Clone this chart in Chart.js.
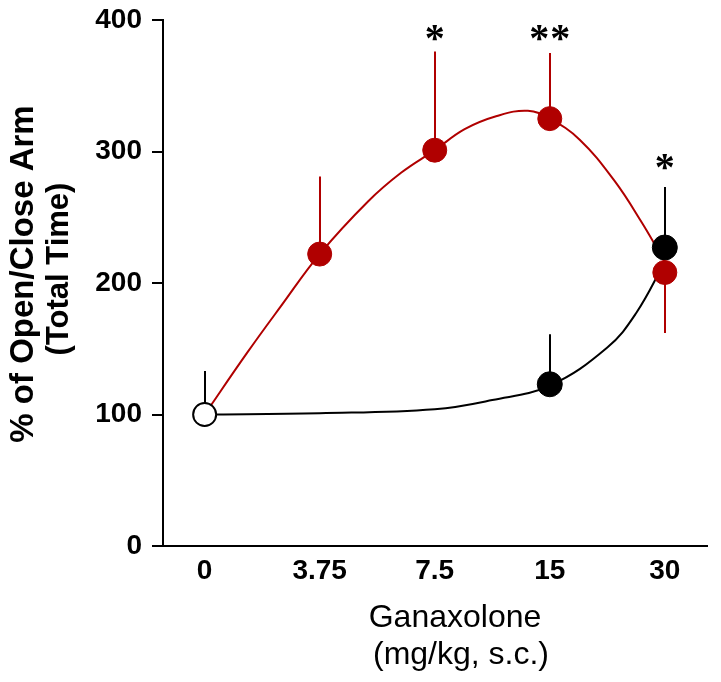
<!DOCTYPE html>
<html>
<head>
<meta charset="utf-8">
<script src="https://cdn.jsdelivr.net/npm/chart.js@4"></script>
<style>
html,body{margin:0;padding:0;background:#fff;}
#wrap{width:721px;height:682px;position:relative;}
</style>
</head>
<body>
<div id="wrap"><canvas id="c" width="721" height="682"></canvas></div>
<script>
// ---- data ----
const doseLabels = ['0', '3.75', '7.5', '15', '30'];
const yTicks = [0, 100, 200, 300, 400];

// control (vehicle) point, shared by both series
const controlX = [0];
const controlMean = [100];
const controlErrEnd = [133];

// red series
const redX = [1, 2, 3, 4];
const redMean = [222, 301, 325, 208];
const redErrEnd = [281, 376, 375, 162];

// black series
const blackX = [3, 4];
const blackMean = [123, 227];
const blackErrEnd = [161, 273];

// fitted curves
const redCurveX = [0, 0.37, 0.66, 1, 1.42, 1.71, 2, 2.26, 2.54, 2.81, 3, 3.26, 3.56, 3.8, 4];
const redCurveY = [100, 147, 182, 222, 262, 284, 301, 317, 327, 331, 325, 309, 278, 246, 216];
const blackCurveX = [0, 1, 2, 2.5, 3, 3.5, 3.75, 4];
const blackCurveY = [100, 101, 104, 111, 122, 151, 177, 216];

// significance marks
const sigText = ['*', '**', '*'];
const sigX = [2, 3, 4];
const sigY = [390, 390, 292];

// ---- styling ----
const RED = '#b00000';
const SANS = '"Liberation Sans", Arial, sans-serif';
const SERIF = '"Liberation Serif", "Times New Roman", serif';

const pts = (xs, ys) => xs.map((x, i) => ({x: x, y: ys[i]}));

const errGroups = [
  {x: controlX, mean: controlMean, end: controlErrEnd, color: '#000'},
  {x: redX, mean: redMean, end: redErrEnd, color: RED},
  {x: blackX, mean: blackMean, end: blackErrEnd, color: '#000'}
];

const errorBarPlugin = {
  id: 'errorBars',
  beforeDatasetsDraw(chart) {
    const ctx = chart.ctx, xs = chart.scales.x, ys = chart.scales.y;
    ctx.save();
    ctx.lineWidth = 2;
    errGroups.forEach(g => {
      ctx.strokeStyle = g.color;
      g.x.forEach((xv, i) => {
        const px = Math.round(xs.getPixelForValue(xv));
        ctx.beginPath();
        ctx.moveTo(px, ys.getPixelForValue(g.mean[i]));
        ctx.lineTo(px, ys.getPixelForValue(g.end[i]));
        ctx.stroke();
      });
    });
    ctx.restore();
  }
};

const annotPlugin = {
  id: 'annot',
  afterDraw(chart) {
    const ctx = chart.ctx, xs = chart.scales.x, ys = chart.scales.y;
    const a = chart.chartArea;
    ctx.save();
    ctx.fillStyle = '#000';
    // significance asterisks
    ctx.font = 'bold 40px ' + SERIF;
    ctx.textAlign = 'left';
    ctx.textBaseline = 'alphabetic';
    sigText.forEach((t, i) => {
      if ('letterSpacing' in ctx) ctx.letterSpacing = t.length > 1 ? '1px' : '0px';
      const m = ctx.measureText(t);
      const w = m.actualBoundingBoxRight + m.actualBoundingBoxLeft;
      const h = m.actualBoundingBoxAscent + m.actualBoundingBoxDescent;
      const cx = xs.getPixelForValue(sigX[i]);
      const cy = ys.getPixelForValue(sigY[i]);
      ctx.fillText(t, cx - w / 2 + m.actualBoundingBoxLeft, cy + h / 2 - m.actualBoundingBoxDescent);
    });
    if ('letterSpacing' in ctx) ctx.letterSpacing = '0px';

    // y axis titles
    const midY = (a.top + a.bottom) / 2;
    ctx.textAlign = 'center';
    ctx.textBaseline = 'alphabetic';
    ctx.save();
    ctx.translate(a.left - 130, midY - 9);
    ctx.rotate(-Math.PI / 2);
    ctx.font = 'bold 33px ' + SANS;
    ctx.fillText('% of Open/Close Arm', 0, 0);
    ctx.restore();
    ctx.save();
    ctx.translate(a.left - 95, midY - 14);
    ctx.rotate(-Math.PI / 2);
    ctx.font = 'bold 31px ' + SANS;
    ctx.fillText('(Total Time)', 0, 0);
    ctx.restore();

    // x axis titles
    ctx.font = '32px ' + SANS;
    ctx.fillText('Ganaxolone', 455, a.bottom + 81);
    ctx.fillText('(mg/kg, s.c.)', 461, a.bottom + 118);
    ctx.restore();
  }
};

new Chart(document.getElementById('c').getContext('2d'), {
  type: 'line',
  data: {
    datasets: [
      {
        label: 'control',
        data: pts(controlX, controlMean),
        showLine: false,
        pointRadius: 11.5,
        pointBackgroundColor: '#fff',
        pointBorderColor: '#000',
        pointBorderWidth: 2
      },
      {
        label: 'red',
        data: pts(redX, redMean),
        showLine: false,
        pointRadius: 12,
        pointBackgroundColor: RED,
        pointBorderColor: RED,
        pointBorderWidth: 1
      },
      {
        label: 'black',
        data: pts(blackX, blackMean),
        showLine: false,
        pointRadius: 12.5,
        pointBackgroundColor: '#000',
        pointBorderColor: '#000',
        pointBorderWidth: 1
      },
      {
        label: 'red fit',
        data: pts(redCurveX, redCurveY),
        borderColor: RED,
        borderWidth: 2,
        pointRadius: 0,
        fill: false,
        tension: 0.4
      },
      {
        label: 'black fit',
        data: pts(blackCurveX, blackCurveY),
        borderColor: '#000',
        borderWidth: 2,
        pointRadius: 0,
        fill: false,
        tension: 0.4
      }
    ]
  },
  options: {
    responsive: false,
    animation: false,
    events: [],
    layout: {padding: {top: 20, right: 9, bottom: 0, left: 0}},
    plugins: {legend: {display: false}, tooltip: {enabled: false}},
    scales: {
      x: {
        type: 'linear',
        min: -0.362,
        max: 4.371,
        afterFit: s => { s.height = 136; s.paddingLeft = 0; s.paddingRight = 0; },
        afterBuildTicks: s => { s.ticks = doseLabels.map((_, i) => ({value: i})); },
        grid: {display: false, drawTicks: false},
        border: {display: true, color: '#000', width: 2},
        ticks: {
          padding: 8,
          color: '#000',
          font: {family: SANS, size: 28, weight: 'bold'},
          maxRotation: 0,
          callback: v => doseLabels[Math.round(v)]
        }
      },
      y: {
        type: 'linear',
        min: 0,
        max: 400,
        afterFit: s => { s.width = 163; s.paddingTop = 0; s.paddingBottom = 0; },
        afterBuildTicks: s => { s.ticks = yTicks.map(v => ({value: v})); },
        grid: {drawOnChartArea: false, color: '#000', lineWidth: 2, tickLength: 11},
        border: {display: true, color: '#000', width: 2},
        ticks: {
          padding: 10,
          color: '#000',
          font: {family: SANS, size: 28, weight: 'bold'}
        }
      }
    }
  },
  plugins: [errorBarPlugin, annotPlugin]
});
</script>
</body>
</html>
